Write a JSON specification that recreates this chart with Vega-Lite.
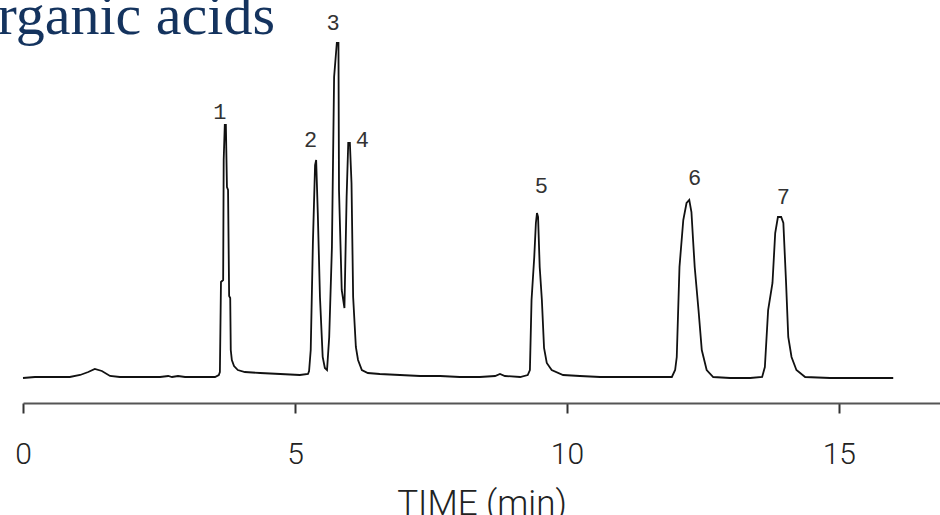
{
  "$schema": "https://vega.github.io/schema/vega-lite/v6.json",
  "autosize": {"type": "none"},
  "width": 917,
  "height": 353,
  "padding": {"left": 23, "top": 50, "right": 0, "bottom": 112},
  "background": "#ffffff",
  "config": {"view": {"stroke": null}},
  "datasets": {
    "trace": [
      {"t": 0.00, "v": 25}, {"t": 0.22, "v": 26}, {"t": 0.50, "v": 26}, {"t": 0.86, "v": 26},
      {"t": 1.05, "v": 28}, {"t": 1.20, "v": 31}, {"t": 1.32, "v": 34}, {"t": 1.45, "v": 32},
      {"t": 1.60, "v": 27}, {"t": 1.78, "v": 26}, {"t": 2.15, "v": 26}, {"t": 2.52, "v": 26},
      {"t": 2.67, "v": 27}, {"t": 2.74, "v": 26}, {"t": 2.85, "v": 27}, {"t": 2.98, "v": 26},
      {"t": 3.25, "v": 26}, {"t": 3.53, "v": 26}, {"t": 3.60, "v": 28}, {"t": 3.62, "v": 31},
      {"t": 3.64, "v": 121}, {"t": 3.68, "v": 123}, {"t": 3.69, "v": 243}, {"t": 3.71, "v": 278},
      {"t": 3.73, "v": 278}, {"t": 3.75, "v": 216}, {"t": 3.77, "v": 213}, {"t": 3.79, "v": 107},
      {"t": 3.81, "v": 105}, {"t": 3.82, "v": 53}, {"t": 3.84, "v": 43}, {"t": 3.88, "v": 37},
      {"t": 3.95, "v": 33}, {"t": 4.08, "v": 31}, {"t": 4.36, "v": 30}, {"t": 4.73, "v": 29},
      {"t": 5.09, "v": 28}, {"t": 5.24, "v": 29}, {"t": 5.26, "v": 32}, {"t": 5.29, "v": 53},
      {"t": 5.33, "v": 160}, {"t": 5.37, "v": 238}, {"t": 5.39, "v": 243}, {"t": 5.42, "v": 190},
      {"t": 5.46, "v": 106}, {"t": 5.51, "v": 46}, {"t": 5.55, "v": 35}, {"t": 5.59, "v": 33},
      {"t": 5.63, "v": 66}, {"t": 5.68, "v": 156}, {"t": 5.72, "v": 326}, {"t": 5.77, "v": 360},
      {"t": 5.80, "v": 360}, {"t": 5.81, "v": 213}, {"t": 5.86, "v": 113}, {"t": 5.91, "v": 95},
      {"t": 5.95, "v": 206}, {"t": 5.98, "v": 260}, {"t": 6.01, "v": 260}, {"t": 6.04, "v": 220},
      {"t": 6.07, "v": 106}, {"t": 6.12, "v": 56}, {"t": 6.16, "v": 43}, {"t": 6.23, "v": 33},
      {"t": 6.34, "v": 30}, {"t": 6.56, "v": 29}, {"t": 6.93, "v": 28}, {"t": 7.30, "v": 27},
      {"t": 7.67, "v": 27}, {"t": 8.03, "v": 26}, {"t": 8.40, "v": 26}, {"t": 8.68, "v": 27},
      {"t": 8.77, "v": 29}, {"t": 8.86, "v": 27}, {"t": 9.14, "v": 26}, {"t": 9.28, "v": 28},
      {"t": 9.32, "v": 33}, {"t": 9.35, "v": 103}, {"t": 9.40, "v": 146}, {"t": 9.43, "v": 180},
      {"t": 9.45, "v": 190}, {"t": 9.47, "v": 186}, {"t": 9.50, "v": 136}, {"t": 9.54, "v": 103},
      {"t": 9.58, "v": 55}, {"t": 9.63, "v": 40}, {"t": 9.72, "v": 33}, {"t": 9.93, "v": 28},
      {"t": 10.24, "v": 27}, {"t": 10.61, "v": 26}, {"t": 11.16, "v": 26}, {"t": 11.71, "v": 26},
      {"t": 11.93, "v": 26}, {"t": 11.99, "v": 33}, {"t": 12.02, "v": 46}, {"t": 12.07, "v": 136},
      {"t": 12.14, "v": 183}, {"t": 12.20, "v": 200}, {"t": 12.25, "v": 203}, {"t": 12.29, "v": 191},
      {"t": 12.32, "v": 163}, {"t": 12.35, "v": 136}, {"t": 12.42, "v": 93}, {"t": 12.48, "v": 53},
      {"t": 12.57, "v": 33}, {"t": 12.69, "v": 26}, {"t": 13.00, "v": 25}, {"t": 13.37, "v": 25},
      {"t": 13.59, "v": 26}, {"t": 13.64, "v": 36}, {"t": 13.70, "v": 93}, {"t": 13.78, "v": 120},
      {"t": 13.83, "v": 170}, {"t": 13.88, "v": 186}, {"t": 13.94, "v": 186}, {"t": 13.98, "v": 180},
      {"t": 14.03, "v": 120}, {"t": 14.07, "v": 66}, {"t": 14.13, "v": 46}, {"t": 14.22, "v": 33},
      {"t": 14.38, "v": 26}, {"t": 14.84, "v": 25}, {"t": 15.39, "v": 25}, {"t": 16.00, "v": 25}
    ],
    "labels": [
      {"t": 3.62, "v": 291, "peak": "1"},
      {"t": 5.29, "v": 263, "peak": "2"},
      {"t": 5.70, "v": 380, "peak": "3"},
      {"t": 6.24, "v": 263, "peak": "4"},
      {"t": 9.53, "v": 217, "peak": "5"},
      {"t": 12.35, "v": 225, "peak": "6"},
      {"t": 13.98, "v": 206, "peak": "7"}
    ],
    "heading": [
      {"t": -1.24, "v": 369, "name": "Organic acids"}
    ]
  },
  "layer": [
    {
      "data": {"name": "trace"},
      "mark": {"type": "line", "color": "#111111", "strokeWidth": 1.8, "interpolate": "linear", "clip": false},
      "encoding": {
        "x": {
          "field": "t",
          "type": "quantitative",
          "scale": {"domain": [0, 16.86], "nice": false, "zero": false},
          "axis": {
            "values": [0, 5, 10, 15],
            "format": "d",
            "grid": false,
            "domainColor": "#555555",
            "domainWidth": 2,
            "tickColor": "#333333",
            "tickWidth": 2,
            "tickSize": 10,
            "labelFont": "Roboto",
            "labelFontWeight": 300,
            "labelFontSize": 30,
            "labelColor": "#222222",
            "labelPadding": 26,
            "labelFlush": false,
            "title": "TIME (min)",
            "titleFont": "Roboto",
            "titleFontWeight": 300,
            "titleFontSize": 35,
            "titleColor": "#222222",
            "titlePadding": 17
          }
        },
        "y": {
          "field": "v",
          "type": "quantitative",
          "scale": {"domain": [0, 353], "nice": false},
          "axis": null
        }
      }
    },
    {
      "data": {"name": "labels"},
      "mark": {"type": "text", "font": "Liberation Mono", "fontSize": 22, "color": "#333333", "align": "center", "baseline": "middle", "clip": false},
      "encoding": {
        "x": {"field": "t", "type": "quantitative"},
        "y": {"field": "v", "type": "quantitative"},
        "text": {"field": "peak", "type": "nominal"}
      }
    },
    {
      "data": {"name": "heading"},
      "mark": {"type": "text", "font": "Liberation Serif", "fontSize": 58, "color": "#14335e", "align": "left", "baseline": "alphabetic", "clip": false},
      "encoding": {
        "x": {"field": "t", "type": "quantitative"},
        "y": {"field": "v", "type": "quantitative"},
        "text": {"field": "name", "type": "nominal"}
      }
    }
  ]
}
